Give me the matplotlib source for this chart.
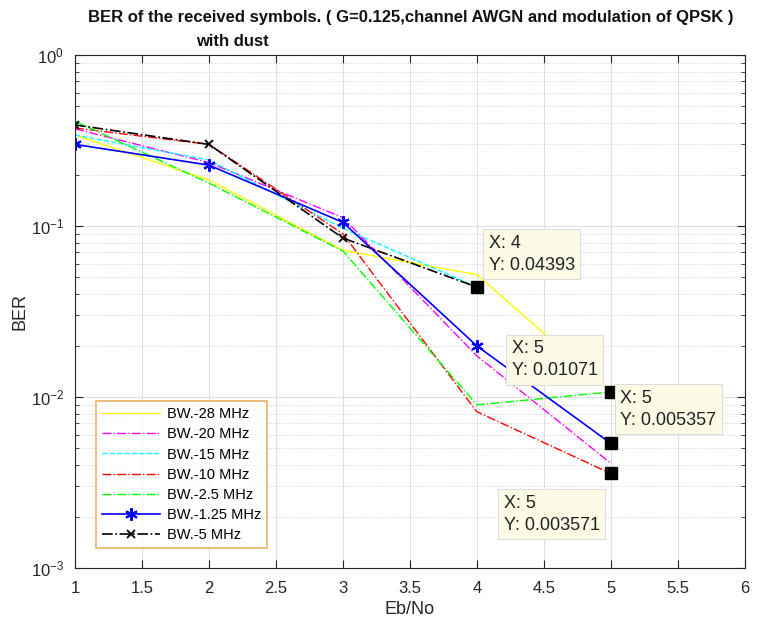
import matplotlib
matplotlib.use("Agg")
import matplotlib.pyplot as plt
from matplotlib.ticker import LogLocator, NullFormatter, MultipleLocator, FuncFormatter

x5 = [1, 2, 3, 4, 5]
x4 = [1, 2, 3, 4]
bw28 = [0.34, 0.186, 0.072, 0.052, 0.01071]
bw20 = [0.37, 0.235, 0.112, 0.0174, 0.0041]
bw15 = [0.34, 0.243, 0.097, 0.044]
bw10 = [0.374, 0.30, 0.09, 0.0082, 0.003571]
bw25 = [0.41, 0.178, 0.0714, 0.009, 0.0107]
bw125 = [0.30, 0.227, 0.105, 0.0199, 0.005357]
bw5 = [0.39, 0.30, 0.085, 0.04393]

tips = [(4, 0.04393), (5, 0.01071), (5, 0.005357), (5, 0.003571)]
tip_text = ["X: 4\nY: 0.04393", "X: 5\nY: 0.01071", "X: 5\nY: 0.005357", "X: 5\nY: 0.003571"]
tip_pos = [(4.09, 0.0524), (4.26, 0.0127), (5.07, 0.0065), (4.20, 0.00158)]

plt.rcParams['font.family'] = ['Liberation Sans', 'DejaVu Sans']
fig = plt.figure(figsize=(7.79, 6.22), dpi=100)
ax = fig.add_axes([0.0963, 0.0868, 0.8597, 0.8248])

ax.semilogy(x5, bw28, color='#ffff00', ls='-', lw=1.0, label='BW.-28 MHz')
ax.semilogy(x5, bw20, color='#ff00ff', ls='-.', lw=1.0, label='BW.-20 MHz')
ax.semilogy(x4, bw15, color='#00ffff', ls='--', lw=1.0, label='BW.-15 MHz')
ax.semilogy(x5, bw10, color='#ff0000', ls='-.', lw=1.0, label='BW.-10 MHz')
ax.semilogy(x5, bw25, color='#00ff00', ls='-.', lw=1.0, label='BW.-2.5 MHz')
ax.semilogy(x5, bw125, color='#0000ff', ls='-', lw=1.2, marker=(6, 2, 0), ms=9, mew=1.5, label='BW.-1.25 MHz')
ax.semilogy(x4, bw5, color='#000000', ls='-.', lw=1.2, marker='x', ms=6, mew=1.3, label='BW.-5 MHz')

for (tx, ty), txt, (px, py) in zip(tips, tip_text, tip_pos):
    ax.plot([tx], [ty], marker='s', color='black', ms=8, ls='none', zorder=6)
    ax.text(px, py, txt, fontsize=13, color='#222222', va='bottom', ha='left', linespacing=1.4,
            bbox=dict(boxstyle='square,pad=0.3', fc='#fbfbe6', ec='#dddddd', lw=0.8), zorder=7)

ax.set_xlim(1, 6)
ax.set_ylim(1e-3, 1)
ax.xaxis.set_major_locator(MultipleLocator(0.5))
ax.xaxis.set_major_formatter(FuncFormatter(lambda v, p: '%g' % v))
ax.yaxis.set_major_locator(LogLocator(base=10, numticks=10))
ax.yaxis.set_minor_locator(LogLocator(base=10, subs=range(2, 10), numticks=20))
ax.yaxis.set_minor_formatter(NullFormatter())
ax.grid(True, which='major', color='#dedede', lw=0.8, ls='-')
ax.grid(True, which='minor', axis='y', color='#cfcfcf', lw=0.7, ls=':')
ax.tick_params(direction='in', which='both', top=True, right=True, labelsize=12, colors='#262626')
ax.tick_params(which='major', length=6)
ax.tick_params(which='minor', length=3)
ax.tick_params(axis='x', pad=9)
ax.tick_params(axis='y', pad=8)
for s in ax.spines.values():
    s.set_color('#262626')
    s.set_linewidth(0.8)
ax.set_axisbelow(True)

ax.set_xlabel('Eb/No', fontsize=13, color='#262626', labelpad=4)
ax.set_ylabel('BER', fontsize=13, color='#262626')
ax.yaxis.set_label_coords(-0.07, 0.5)

leg = ax.legend(loc='lower left', bbox_to_anchor=(0.02, 0.025), fontsize=10.5, frameon=True,
                fancybox=False, edgecolor='#e8a040', handlelength=4.0, labelspacing=0.42,
                borderpad=0.4, handletextpad=0.5)
leg.get_frame().set_linewidth(1.2)

fig.text(0.527, 0.972, 'BER of the received symbols. ( G=0.125,channel AWGN and modulation of QPSK )',
         ha='center', va='center', fontsize=12, fontweight='bold', color='#111111')
fig.text(0.298, 0.933, 'with dust', ha='center', va='center', fontsize=12, fontweight='bold', color='#111111')

fig.savefig('out.png', dpi=100)
